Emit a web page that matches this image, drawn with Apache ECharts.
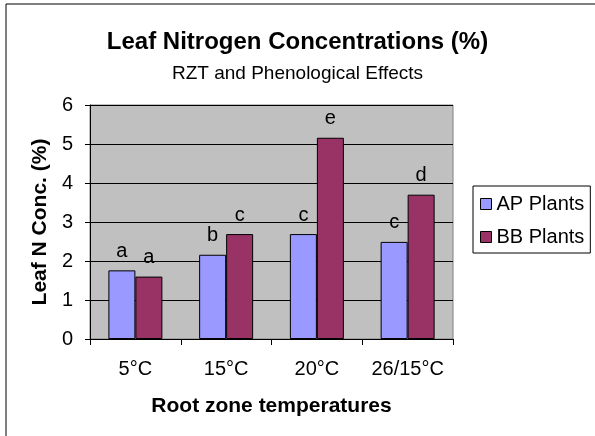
<!DOCTYPE html>
<html><head><meta charset="utf-8">
<script src="https://cdn.jsdelivr.net/npm/echarts@6/dist/echarts.min.js"></script>
<style>html,body{margin:0;padding:0;background:#fff}#c{width:595px;height:436px}</style>
</head><body><div id="c"></div>
<script>
const categories = ['5°C', '15°C', '20°C', '26/15°C'];
const apValues = [1.76, 2.16, 2.69, 2.49];
const bbValues = [1.60, 2.69, 5.16, 3.70];
const apLetters = ['a', 'b', 'c', 'c'];
const bbLetters = ['a', 'c', 'e', 'd'];
const yTicks = [0, 1, 2, 3, 4, 5, 6];

const FONT = '"Liberation Sans", Arial, sans-serif';
const chart = echarts.init(document.getElementById('c'));
function lbl(letters) {
  return {
    show: true, position: 'top', distance: 9,
    fontFamily: FONT, fontSize: 20, color: '#000',
    formatter: p => letters[p.dataIndex]
  };
}
chart.setOption({
  animation: false,
  textStyle: { fontFamily: FONT },
  graphic: [
    { type: 'rect', shape: { x: 6, y: 4, width: 620, height: 460 }, style: { fill: 'none', stroke: '#000', lineWidth: 1 }, z: -10 }
  ],
  title: [
    { text: 'Leaf Nitrogen Concentrations (%)', left: 'center', top: 25, textStyle: { fontFamily: FONT, fontSize: 24, fontWeight: 'bold', color: '#000' } },
    { text: 'RZT and Phenological Effects', left: 'center', top: 59, textStyle: { fontFamily: FONT, fontSize: 19, fontWeight: 'normal', color: '#000' } }
  ],
  legend: {
    orient: 'vertical', left: 473, top: 186,
    padding: [8, 6, 6, 7], itemGap: 13,
    itemWidth: 11, itemHeight: 11, icon: 'rect',
    borderColor: '#000', borderWidth: 1,
    itemStyle: { borderColor: '#000', borderWidth: 1 },
    textStyle: { fontFamily: FONT, fontSize: 20, color: '#000', padding: [0, 0, 0, 0] },
    data: ['AP Plants', 'BB Plants']
  },
  grid: { left: 90, top: 105, width: 363, height: 234, backgroundColor: '#c0c0c0', show: true, borderColor: '#808080', borderWidth: 1 },
  xAxis: {
    type: 'category', data: categories,
    name: 'Root zone temperatures', nameLocation: 'middle', nameGap: 57,
    nameTextStyle: { fontFamily: FONT, fontSize: 21, fontWeight: 'bold', color: '#000' },
    axisLine: { lineStyle: { color: '#000' } },
    axisTick: { show: true, length: 6, lineStyle: { color: '#000' } },
    axisLabel: { fontFamily: FONT, fontSize: 20, color: '#000', margin: 20, interval: 0, hideOverlap: false }
  },
  yAxis: {
    type: 'value', min: yTicks[0], max: yTicks[yTicks.length - 1], interval: 1,
    name: 'Leaf N Conc. (%)', nameLocation: 'middle', nameGap: 37,
    nameTextStyle: { fontFamily: FONT, fontSize: 21, fontWeight: 'bold', color: '#000' },
    axisLine: { show: true, lineStyle: { color: '#000' } },
    axisTick: { show: true, length: 5, lineStyle: { color: '#000' } },
    axisLabel: { fontFamily: FONT, fontSize: 20, color: '#000', margin: 17 },
    splitLine: { show: true, lineStyle: { color: '#000', width: 1 } }
  },
  series: [
    { name: 'AP Plants', type: 'bar', data: apValues, barWidth: 27, barGap: '0%',
      itemStyle: { color: '#9999ff', borderColor: '#000', borderWidth: 1 }, label: lbl(apLetters) },
    { name: 'BB Plants', type: 'bar', data: bbValues, barWidth: 27,
      itemStyle: { color: '#993366', borderColor: '#000', borderWidth: 1 }, label: lbl(bbLetters) }
  ]
});
</script></body></html>
